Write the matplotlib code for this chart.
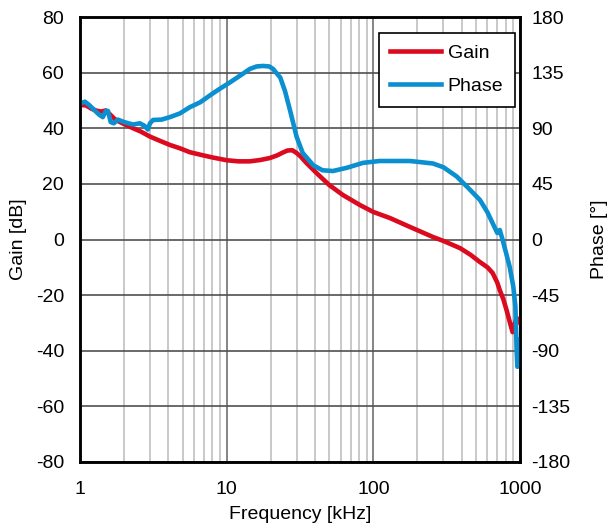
import numpy as np
import matplotlib
matplotlib.use('Agg')
import matplotlib.pyplot as plt
from matplotlib.ticker import FixedLocator, NullFormatter

plt.rcParams['font.family'] = ['Liberation Sans', 'DejaVu Sans']
plt.rcParams['axes.unicode_minus'] = False

# gain curve [kHz, dB]
gain_f = [1, 1.1, 1.2, 1.3, 1.4, 1.5, 1.6, 1.75, 2.0, 2.3, 2.6, 3.0, 3.5, 4.1,
          4.8, 5.6, 6.6, 8, 10, 12, 14.4, 17, 19.7, 22, 24, 26, 28, 30, 32, 35,
          41, 50, 62, 81, 100, 130, 178, 255, 300, 390, 460, 533, 600, 650,
          700, 728, 770, 810, 850, 890, 910, 950, 1000]
gain_db = [48.4, 48.2, 47, 46.3, 46.0, 46.4, 45, 43, 41.5, 40, 38.8, 37, 35.5,
           34, 32.8, 31.4, 30.5, 29.5, 28.5, 28.1, 28.1, 28.6, 29.3, 30.2, 31.2,
           32, 32.1, 31.1, 29.8, 27.5, 23.9, 19.6, 16, 12.4, 9.9, 7.7, 4.5, 0.9,
           -0.5, -3.1, -5.5, -8.1, -10, -12, -15.5, -18.2, -21.5, -25.4, -29.5,
           -33.3, -31, -28.2, -30]

# phase curve [kHz, deg]
phase_f = [1, 1.08, 1.15, 1.27, 1.35, 1.43, 1.5, 1.55, 1.62, 1.7, 1.81, 2.0,
           2.3, 2.56, 2.75, 2.9, 3.0, 3.15, 3.6, 4.1, 4.8, 5.6, 6.6, 8, 9, 10.5,
           12.5, 14.4, 16, 17.7, 19.5, 20.7, 23.2, 25, 27, 30, 33, 39, 45, 53,
           66, 85, 110, 178, 255, 300, 370, 437, 533, 600, 650, 700, 728, 760,
           800, 850, 900, 930, 950, 960, 980, 1000]
phase_deg = [110, 111.5, 109, 104, 101, 99, 104, 104, 95, 94, 97, 95, 93, 94,
             92, 89, 94, 96.7, 97, 99, 102, 107, 111, 118, 122, 127, 133, 138,
             140, 140.4, 140, 138, 131, 120, 104.8, 83, 70, 60, 56, 55.4, 58, 62,
             63.5, 63.5, 61.5, 58.5, 51, 42.5, 32, 22, 13.3, 5.3, 7.7, 0, -10,
             -22, -38, -54, -92, -103, -95, -81]

gain_ticks = list(range(-80, 81, 20))
phase_ticks = list(range(-180, 181, 45))

red = '#dc0a1e'
blue = '#0a8fd0'

fig = plt.figure(figsize=(6.14, 5.31), dpi=100)
ax = fig.add_axes([80 / 614, 1 - 462 / 531, 440 / 614, 445 / 531])
ax2 = ax.twinx()

ax.set_xscale('log')
ax.set_xlim(1, 1000)
ax.set_ylim(-80, 80)
ax2.set_ylim(-180, 180)

ax.xaxis.set_minor_locator(FixedLocator([m * d for d in (1, 10, 100) for m in range(2, 10)]))
ax.xaxis.set_minor_formatter(NullFormatter())
ax.set_xticks([1, 10, 100, 1000])
ax.set_xticklabels(['1', '10', '100', '1000'])
ax.set_yticks(gain_ticks)
ax2.set_yticks(phase_ticks)

ax.grid(which='minor', axis='x', color='#c0c0c0', lw=1.2)
ax.grid(which='major', axis='x', color='#707070', lw=1.2)
ax.grid(which='major', axis='y', color='#505050', lw=1.2)

# gain drawn on the phase axis, scaled 80 dB -> 180 deg
l1, = ax2.plot(gain_f, np.array(gain_db) * 180 / 80, color=red, lw=3.3,
               label='Gain', solid_joinstyle='round')
l2, = ax2.plot(phase_f, phase_deg, color=blue, lw=3.3, label='Phase',
               solid_joinstyle='round')

for a in (ax, ax2):
    a.tick_params(which='both', length=0, labelsize=14)
    for s in a.spines.values():
        s.set_linewidth(1.8)
        s.set_color('black')
ax.tick_params(axis='x', pad=13.5)
ax.tick_params(axis='y', pad=11.5)
ax2.tick_params(axis='y', pad=8)

ax.set_xlabel('Frequency [kHz]', fontsize=14, labelpad=6)
ax.set_ylabel('Gain [dB]', fontsize=14, labelpad=6)
ax2.set_ylabel('Phase [°]', fontsize=14, labelpad=15)

leg = ax2.legend(handles=[l1, l2], loc='upper right', bbox_to_anchor=(0.9886, 0.9647),
                 borderaxespad=0, fontsize=14, fancybox=False, edgecolor='black',
                 framealpha=1, handlelength=2.6, handletextpad=0.35,
                 borderpad=0.6, labelspacing=0.8)
leg.get_frame().set_linewidth(1.2)

fig.savefig('out.png', dpi=100)
